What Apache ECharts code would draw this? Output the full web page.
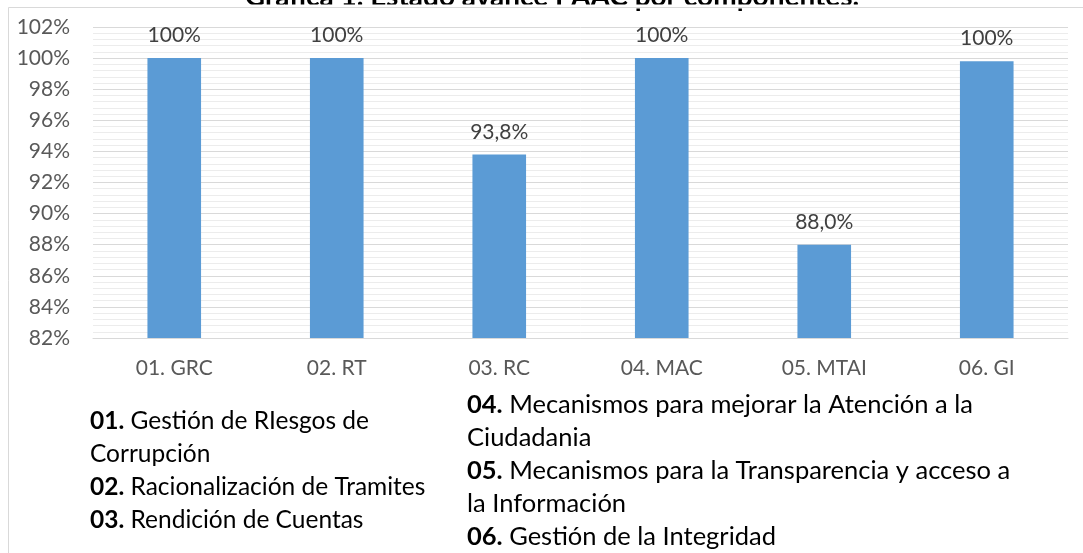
<!DOCTYPE html>
<html lang="es">
<head>
    <meta charset="utf-8">
    <script src="https://cdn.jsdelivr.net/npm/echarts@6/dist/echarts.min.js"></script>
    <title>Gráfica 1. Estado avance PAAC por componentes.</title>
    <style>
        html, body { margin: 0; padding: 0; background: #fff; }
        #main { width: 1083px; height: 553px; }
    </style>
</head>
<body>
<div id="main"></div>
<script>
    var categories = ['01. GRC', '02. RT', '03. RC', '04. MAC', '05. MTAI', '06. GI'];
    var values = [100, 100, 93.8, 100, 88.0, 99.8];
    var valueLabels = ['100%', '100%', '93,8%', '100%', '88,0%', '100%'];

    var notesLeft = [
        ['01.', ' Gestión de RIesgos de\nCorrupción'],
        ['02.', ' Racionalización de Tramites'],
        ['03.', ' Rendición de Cuentas']
    ];
    var notesRight = [
        ['04.', ' Mecanismos para mejorar la Atención a la\nCiudadania'],
        ['05.', ' Mecanismos para la Transparencia y acceso a\nla Información'],
        ['06.', ' Gestión de la Integridad']
    ];

    var font = 'Lato, "Open Sans", sans-serif';

    function noteText(list) {
        return list.map(function (n) {
            return '{b|' + n[0] + '}{t|' + n[1].replace('\n', '}\n{t|') + '}';
        }).join('\n');
    }

    function noteBlock(list, x, y, size) {
        return {
            type: 'text',
            left: x,
            top: y,
            style: {
                text: noteText(list),
                fontFamily: font,
                fontSize: size,
                fill: '#000',
                lineHeight: 33,
                rich: {
                    b: { fontWeight: 'bold', fontSize: size, fontFamily: font, lineHeight: 33 },
                    t: { fontSize: size, fontFamily: font, lineHeight: 33 }
                }
            }
        };
    }

    var myChart = echarts.init(document.getElementById('main'));

    var option = {
        backgroundColor: '#fff',
        animation: false,
        grid: {
            left: 93,
            right: 15,
            top: 27,
            bottom: 215
        },
        xAxis: {
            type: 'category',
            data: categories,
            axisLine: { lineStyle: { color: '#d9d9d9', width: 1 } },
            axisTick: { show: false },
            axisLabel: {
                color: '#595959',
                fontFamily: font,
                fontSize: 21,
                margin: 20
            }
        },
        yAxis: {
            type: 'value',
            min: 82,
            max: 102,
            interval: 2,
            axisLine: { show: false },
            axisTick: { show: false },
            axisLabel: {
                formatter: '{value}%',
                color: '#595959',
                fontFamily: font,
                fontSize: 21,
                margin: 23
            },
            splitLine: { lineStyle: { color: '#d9d9d9', width: 1 } },
            minorTick: { show: false, splitNumber: 5 },
            minorSplitLine: { show: true, lineStyle: { color: '#ececec', width: 1 } }
        },
        series: [{
            type: 'bar',
            data: values,
            barWidth: '33%',
            itemStyle: { color: '#5b9bd5' },
            label: {
                show: true,
                position: 'top',
                distance: 12,
                color: '#404040',
                fontFamily: font,
                fontSize: 21,
                formatter: function (p) { return valueLabels[p.dataIndex]; }
            }
        }],
        graphic: [
            {
                // title, mostly cut off above the frame
                type: 'text',
                x: 552,
                y: 11,
                style: {
                    text: 'Gráfica 1. Estado avance PAAC por componentes.',
                    fontFamily: font,
                    fontSize: 28,
                    fontWeight: 'bold',
                    fill: '#000',
                    align: 'center',
                    verticalAlign: 'bottom'
                }
            },
            {
                type: 'rect',
                shape: { x: 0, y: 4.5, width: 1083, height: 4 },
                style: { fill: '#fff' },
                silent: true
            },
            {
                type: 'rect',
                shape: { x: 8.5, y: 7.5, width: 1200, height: 700 },
                style: { fill: 'none', stroke: '#d9d9d9', lineWidth: 1 },
                silent: true
            },
            noteBlock(notesLeft, 90, 405, 24.5),
            noteBlock(notesRight, 467, 388, 25.5)
        ]
    };

    myChart.setOption(option);
</script>
</body>
</html>
